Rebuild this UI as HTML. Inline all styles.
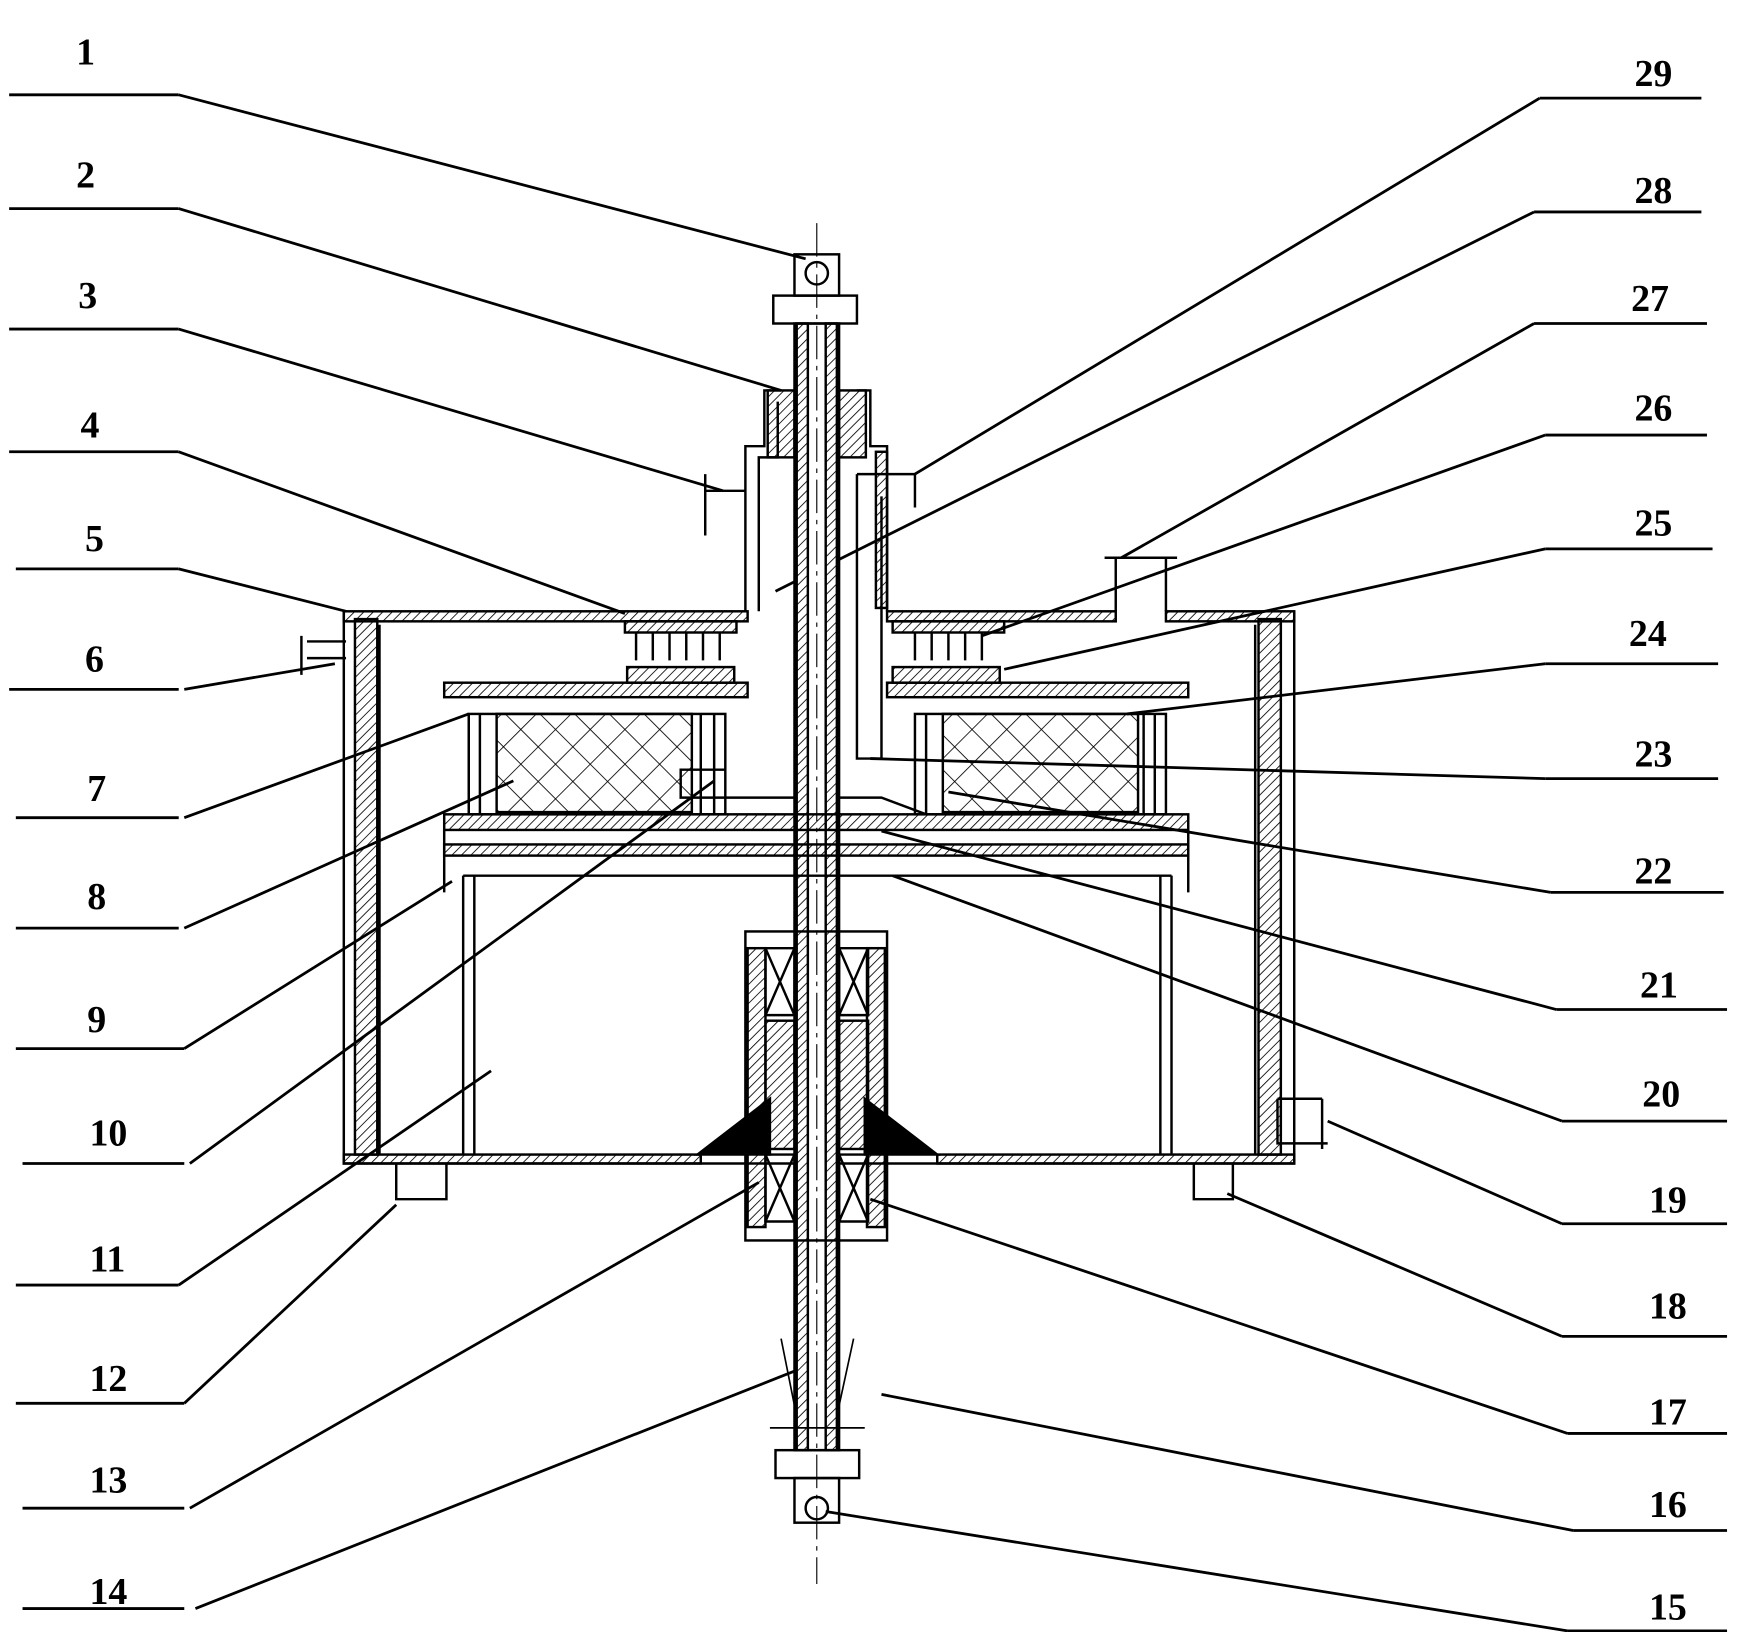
<!DOCTYPE html>
<html><head><meta charset="utf-8"><style>
html,body{margin:0;padding:0;background:#fff;}
svg{display:block}
text{font-family:"Liberation Serif",serif;font-size:34px;font-weight:bold;fill:#000}
</style></head><body>
<svg width="1744" height="1632" viewBox="0 0 1563 1463" xmlns="http://www.w3.org/2000/svg">
<defs>
<pattern id="h" width="6" height="6" patternUnits="userSpaceOnUse" patternTransform="rotate(45)"><line x1="0" y1="0" x2="0" y2="6" stroke="#000" stroke-width="1.5"/></pattern>
<pattern id="x" width="22" height="22" patternUnits="userSpaceOnUse" patternTransform="rotate(45)"><path d="M0 0H22M0 0V22" stroke="#000" stroke-width="1.5" fill="none"/></pattern>
</defs>
<g stroke="#000" stroke-width="2.5" fill="none">
<path d="M8 85H160M8 187H160M8 295H160M8 405H160M14 510H160M8 618H160M14 733H160M14 832H160M14 940H165M20 1043H165M14 1152H160M14 1258H165M20 1352H165M20 1442H165"/>
<path d="M160 85L722 232M160 187L700 350M160 295L648 440M160 405L560 550M160 510L310 548M165 618L300 595M165 733L420 640M165 832L460 700M165 940L405 790M170 1043L640 700M160 1152L440 960M165 1258L355 1080M170 1352L680 1060M175 1442L735 1220"/>
<path d="M1380 88H1525M1375 190H1525M1375 290H1530M1385 390H1530M1385 492H1535M1385 595H1540M1385 698H1540M1390 800H1545M1395 905H1548M1400 1005H1548M1400 1097H1548M1400 1198H1548M1405 1285H1548M1410 1372H1548M1405 1462H1548"/>
<path d="M1380 88L820 425M1375 190L695 530M1375 290L1005 500M1385 390L880 570M1385 492L900 600M1385 595L1010 640M1385 698L780 680M1390 800L850 710M1395 905L790 745M1400 1005L800 785M1400 1097L1190 1005M1400 1198L1100 1070M1405 1285L780 1075M1410 1372L790 1250M1405 1462L740 1355"/>
</g>
<g stroke="#000" stroke-width="2.2" fill="none">
<path d="M308 548V1043H1160V548"/>
<rect x="318" y="555" width="20" height="480" fill="url(#h)"/>
<rect x="1128" y="555" width="20" height="480" fill="url(#h)"/>
<path d="M340 560V1035M1125 560V1035"/>
<rect x="308" y="548" width="362" height="9" fill="url(#h)"/>
<rect x="795" y="548" width="205" height="9" fill="url(#h)"/>
<rect x="1045" y="548" width="115" height="9" fill="url(#h)"/>
<rect x="308" y="1035" width="320" height="8" fill="url(#h)"/>
<rect x="840" y="1035" width="320" height="8" fill="url(#h)"/>
<path d="M1000 548V500H1045V548M990 500H1055"/>
<path d="M668 548V400H685V350H700M795 548V400H780V350H768M680 548V410H697V360"/>
<rect x="785" y="405" width="10" height="140" fill="url(#h)"/>
<path d="M768 425H820M768 425V680H790V445M820 425V455M632 425V480M632 440H668"/>
<rect x="688" y="350" width="24" height="60" fill="url(#h)"/>
<rect x="752" y="350" width="24" height="60" fill="url(#h)"/>
<rect x="712" y="290" width="40" height="1010" fill="#fff"/>
<rect x="714" y="290" width="10" height="1010" fill="url(#h)"/>
<rect x="740" y="290" width="10" height="1010" fill="url(#h)"/>
<path d="M732 200V1420" stroke-dasharray="30 6 4 6" stroke-width="1"/>
<rect x="693" y="265" width="75" height="25"/>
<rect x="712" y="228" width="40" height="37"/><circle cx="732" cy="245" r="10"/>
<rect x="695" y="1300" width="75" height="25"/>
<rect x="712" y="1325" width="40" height="40"/><circle cx="732" cy="1352" r="10"/>
<path d="M700 1200L712 1260M765 1200L752 1260M690 1280H775" stroke-width="1.5"/>
<rect x="560" y="557" width="100" height="10" fill="url(#h)"/>
<rect x="800" y="557" width="100" height="10" fill="url(#h)"/>
<path d="M570 567V592M585 567V592M600 567V592M615 567V592M630 567V592M645 567V592M820 567V592M835 567V592M850 567V592M865 567V592M880 567V592"/>
<rect x="562" y="598" width="96" height="14" fill="url(#h)"/>
<rect x="800" y="598" width="96" height="14" fill="url(#h)"/>
<rect x="398" y="612" width="272" height="13" fill="url(#h)"/>
<rect x="795" y="612" width="270" height="13" fill="url(#h)"/>
<rect x="420" y="640" width="230" height="90"/>
<rect x="445" y="640" width="175" height="88" fill="url(#x)"/>
<path d="M420 640V730M430 640V730M628 640V730M640 640V730"/>
<rect x="820" y="640" width="225" height="90"/>
<rect x="845" y="640" width="175" height="88" fill="url(#x)"/>
<path d="M830 640V730M1025 640V730M1035 640V730"/>
<path d="M650 690H610V715H712M752 715H790L830 730"/>
<rect x="398" y="730" width="667" height="14" fill="url(#h)"/>
<rect x="398" y="757" width="667" height="10" fill="url(#h)"/>
<path d="M398 744V800M1065 744V800"/>
<path d="M415 785V1035M425 785V1035M1040 785V1035M1050 785V1035M415 785H1050"/>
<rect x="668" y="835" width="127" height="277"/>
<rect x="670" y="850" width="16" height="250" fill="url(#h)"/>
<rect x="777" y="850" width="16" height="250" fill="url(#h)"/>
<rect x="686" y="915" width="26" height="115" fill="url(#h)"/>
<rect x="752" y="915" width="26" height="115" fill="url(#h)"/>
<path d="M686 850H712V910H686ZM686 850L712 910M712 850L686 910M752 850H778V910H752ZM752 850L778 910M778 850L752 910"/>
<path d="M686 1035H712V1095H686ZM686 1035L712 1095M712 1035L686 1095M752 1035H778V1095H752ZM752 1035L778 1095M778 1035L752 1095"/>
<path d="M625 1035L690 985V1035ZM840 1035L775 985V1035Z" fill="#000"/>
<path d="M355 1043V1075H400V1043M362 1075H395M1070 1043V1075H1105V1043M1145 985V1025H1190M1145 985H1185M1185 985V1030M270 570V605M275 590H310M275 575H310"/>
</g>
<g>
<text x="68" y="58">1</text><text x="68" y="168">2</text><text x="70" y="276">3</text><text x="72" y="392">4</text><text x="76" y="494">5</text><text x="76" y="602">6</text><text x="78" y="718">7</text><text x="78" y="815">8</text><text x="78" y="925">9</text><text x="80" y="1027">10</text><text x="80" y="1140">11</text><text x="80" y="1247">12</text><text x="80" y="1338">13</text><text x="80" y="1438">14</text>
<text x="1465" y="77">29</text><text x="1465" y="182">28</text><text x="1462" y="279">27</text><text x="1465" y="377">26</text><text x="1465" y="480">25</text><text x="1460" y="579">24</text><text x="1465" y="687">23</text><text x="1465" y="792">22</text><text x="1470" y="894">21</text><text x="1472" y="992">20</text><text x="1478" y="1087">19</text><text x="1478" y="1182">18</text><text x="1478" y="1277">17</text><text x="1478" y="1360">16</text><text x="1478" y="1452">15</text>
</g>
</svg>
</body></html>
